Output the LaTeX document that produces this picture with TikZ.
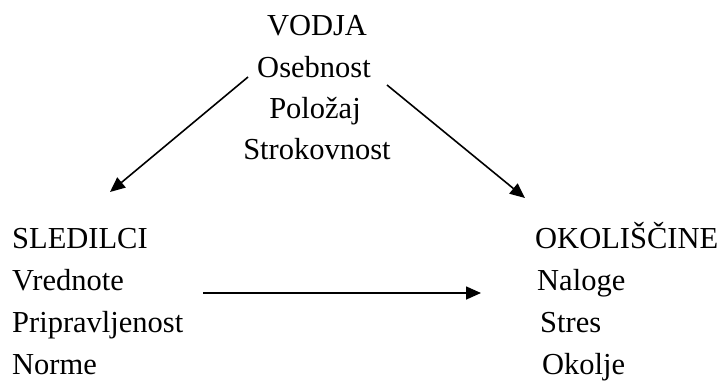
\documentclass[tikz,border=0pt]{standalone}
\usepackage{fontspec}
\setmainfont{Liberation Serif}
\usetikzlibrary{arrows.meta}
\begin{document}
\begin{tikzpicture}[x=1pt,y=-1pt,
  lbl/.style={inner sep=0pt,font=\fontsize{30.5}{37}\selectfont},
  ctr/.style={lbl,anchor=base},
  lft/.style={lbl,anchor=base west},
  link/.style={line width=1.6pt,-{Triangle[length=15pt,width=13pt]}}]
\useasboundingbox (0,0) rectangle (722,381);
% leader
\node[ctr] (vodja) at (317,35) {VODJA};
\node[ctr] (osebnost) at (314,77) {Osebnost};
\node[ctr] (polozaj) at (315,118) {Položaj};
\node[ctr] (strok) at (317,159) {Strokovnost};
% followers
\node[lft] (sled) at (12,248) {SLEDILCI};
\node[lft] (vred) at (12,290) {Vrednote};
\node[lft] (prip) at (12,332) {Pripravljenost};
\node[lft] (norme) at (12,374) {Norme};
% circumstances
\node[lft] (okol) at (535,248) {OKOLIŠČINE};
\node[lft] (nal) at (537,290) {Naloge};
\node[lft] (stres) at (540,332) {Stres};
\node[lft] (okolje) at (542,374) {Okolje};
% arrow end points
\coordinate (a1s) at (248,77);
\coordinate (a1e) at (110,192);
\coordinate (a2s) at (387,85);
\coordinate (a2e) at (525,198);
\coordinate (a3s) at (203,293);
\coordinate (a3e) at (481,293);
\draw[link] (a1s) -- (a1e);
\draw[link] (a2s) -- (a2e);
\draw[link] (a3s) -- (a3e);
\end{tikzpicture}
\end{document}
